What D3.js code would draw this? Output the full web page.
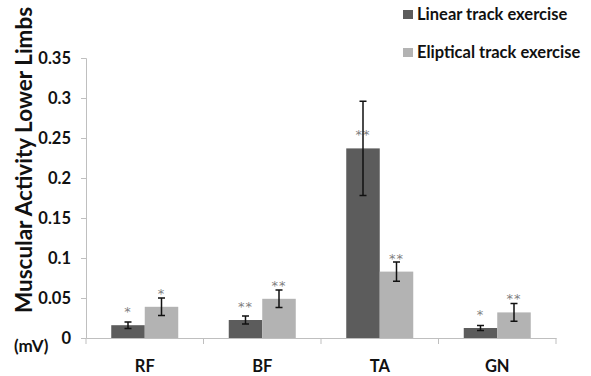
<!DOCTYPE html>
<html>
<head>
<meta charset="utf-8">
<script src="https://cdn.jsdelivr.net/npm/d3@7"></script>
<style>
body { margin: 0; background: #fff; }
text { font-family: Lato, "Open Sans", sans-serif; font-weight: bold; }
.marks text { font-family: "DejaVu Sans", sans-serif; font-weight: normal; }
</style>
</head>
<body>
<div id="chart"></div>
<script>
// data
var muscles = ["RF", "BF", "TA", "GN"];
var seriesNames = ["Linear track exercise", "Eliptical track exercise"];
var linearMean = [0.016, 0.0225, 0.237, 0.0125];
var linearErr = [0.004, 0.005, 0.059, 0.003];
var linearMark = ["*", "**", "**", "*"];
var ellipMean = [0.039, 0.049, 0.083, 0.032];
var ellipErr = [0.011, 0.011, 0.012, 0.011];
var ellipMark = ["*", "**", "**", "**"];
var yTicks = [0, 0.05, 0.1, 0.15, 0.2, 0.25, 0.3, 0.35];

var colors = ["#5c5c5c", "#b3b3b3"];
var width = 591, height = 376;

var svg = d3.select("#chart").append("svg")
    .attr("width", width)
    .attr("height", height);

var x = d3.scaleBand()
    .domain(muscles)
    .range([86, 556])
    .paddingInner(0)
    .paddingOuter(0);

var inner = d3.scaleBand()
    .domain([0, 1])
    .range([0, 67]);

var y = d3.scaleLinear()
    .domain([0, 0.35])
    .range([338, 58]);

// y axis
var yAxis = d3.axisLeft(y)
    .tickValues(yTicks)
    .tickSize(5)
    .tickPadding(10)
    .tickFormat(function(d) { return d === 0 ? "0" : String(+d.toFixed(2)); });

var gY = svg.append("g")
    .attr("transform", "translate(86,0)")
    .call(yAxis);
gY.selectAll("path, line").attr("stroke", "#bfbfbf");
gY.selectAll("text").attr("font-size", 16.5).attr("fill", "#111");

// x axis
var xAxis = d3.axisBottom(x)
    .tickValues([])
    .tickSizeOuter(0);
var gX = svg.append("g")
    .attr("transform", "translate(0,338)")
    .call(xAxis);
gX.select("path").attr("stroke", "#bfbfbf");

// group separators
var seps = [86].concat(muscles.map(function(m) { return x(m) + x.bandwidth(); }));
gX.selectAll(".sep").data(seps).enter().append("line")
    .attr("x1", function(d) { return d; })
    .attr("x2", function(d) { return d; })
    .attr("y1", 0).attr("y2", 6)
    .attr("stroke", "#bfbfbf");

gX.selectAll(".cat").data(muscles).enter().append("text")
    .attr("x", function(d) { return x(d) + x.bandwidth() / 2; })
    .attr("y", 34)
    .attr("text-anchor", "middle")
    .attr("font-size", 16.5)
    .attr("fill", "#111")
    .text(function(d) { return d; });

var series = [
    { means: linearMean, errs: linearErr, marks: linearMark },
    { means: ellipMean, errs: ellipErr, marks: ellipMark }
];

var off = (x.bandwidth() - 67) / 2;

series.forEach(function(s, si) {
    var g = svg.append("g");
    var rows = muscles.map(function(m, i) {
        return { m: m, v: s.means[i], e: s.errs[i], mark: s.marks[i] };
    });
    var cx = function(d) { return x(d.m) + off + inner(si) + inner.bandwidth() / 2; };

    g.selectAll("rect").data(rows).enter().append("rect")
        .attr("x", function(d) { return x(d.m) + off + inner(si); })
        .attr("y", function(d) { return y(d.v); })
        .attr("width", inner.bandwidth())
        .attr("height", function(d) { return y(0) - y(d.v); })
        .attr("fill", colors[si]);

    // significance marks, set a fixed distance above the bar top
    g.append("g").attr("class", "marks")
      .selectAll("text").data(rows).enter().append("text")
        .attr("x", cx)
        .attr("y", function(d) { return y(d.v) - 9; })
        .attr("text-anchor", "middle")
        .attr("font-size", 13)
        .attr("fill", "#808080")
        .attr("letter-spacing", 1)
        .text(function(d) { return d.mark; });

    // error bars
    g.selectAll(".eb").data(rows).enter().append("path")
        .attr("d", function(d) {
            var c = cx(d), t = y(d.v + d.e), b = y(d.v - d.e);
            return "M" + c + "," + t + "V" + b +
                "M" + (c - 3.5) + "," + t + "H" + (c + 3.5) +
                "M" + (c - 3.5) + "," + b + "H" + (c + 3.5);
        })
        .attr("stroke", "#111")
        .attr("stroke-width", 1.5)
        .attr("fill", "none");
});

// y title
svg.append("text")
    .attr("transform", "translate(32,160) rotate(-90)")
    .attr("text-anchor", "middle")
    .attr("font-size", 22.5)
    .attr("fill", "#111")
    .text("Muscular Activity Lower Limbs");

svg.append("text")
    .attr("x", 14)
    .attr("y", 352)
    .attr("font-size", 17)
    .attr("fill", "#111")
    .text("(mV)");

// legend
var leg = svg.append("g").attr("transform", "translate(403,0)");
seriesNames.forEach(function(n, i) {
    var base = 20 + i * 38;
    leg.append("rect")
        .attr("x", 0).attr("y", base - 10)
        .attr("width", 10).attr("height", 9)
        .attr("fill", colors[i]);
    leg.append("text")
        .attr("x", 14).attr("y", base)
        .attr("font-size", 16.5)
        .attr("fill", "#111")
        .text(n);
});
</script>
</body>
</html>
